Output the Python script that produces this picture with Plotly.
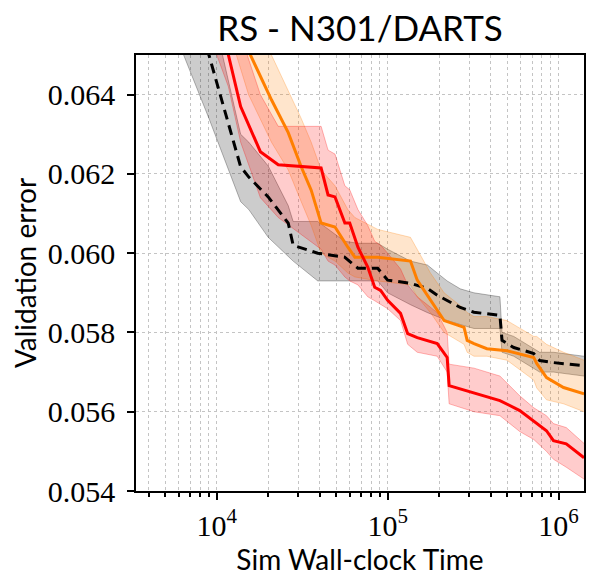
import plotly.graph_objects as go

# incumbent validation error over simulated wall-clock time (mean and band)
rs_time = [6.4e3, 9.0e3, 1.38e4, 1.54e4, 2.0e4, 2.62e4, 2.8e4, 3.9e4, 5.6e4, 6.7e4, 8.75e4,
           1.0e5, 1.36e5, 1.71e5, 1.95e5, 2.23e5, 2.66e5, 3.2e5, 4.54e5, 4.67e5, 5.47e5,
           7.16e5, 7.76e5, 9.34e5, 1.41e6]
rs_mean = [0.0671, 0.0650, 0.06218, 0.06192, 0.06142, 0.06076, 0.0602, 0.0600, 0.0599, 0.05962,
           0.05962, 0.05932, 0.05924, 0.05911, 0.05894, 0.05881, 0.05863, 0.05851, 0.05843,
           0.0578, 0.05762, 0.05747, 0.05729, 0.05724, 0.05716]
rs_hi = [0.0690, 0.0665, 0.0630, 0.0628, 0.0622, 0.0612, 0.0608, 0.0608, 0.0603, 0.06025,
         0.06025, 0.0601, 0.0598, 0.0597, 0.0595, 0.0593, 0.0591, 0.0590, 0.0589, 0.0580,
         0.0579, 0.0576, 0.0575, 0.0575, 0.0574]
rs_lo = [0.0650, 0.0634, 0.0613, 0.0611, 0.0604, 0.0599, 0.0598, 0.0593, 0.0593, 0.0593,
         0.0593, 0.0590, 0.0587, 0.0585, 0.0584, 0.0583, 0.0582, 0.0581, 0.0581, 0.0575,
         0.0574, 0.0571, 0.0570, 0.0570, 0.0569]

red_time = [1.0e4, 1.17e4, 1.38e4, 1.8e4, 2.29e4, 4.08e4, 4.48e4, 4.92e4, 5.62e4, 6.0e4,
            6.7e4, 7.65e4, 8.4e4, 9.1e4, 1.0e5, 1.19e5, 1.31e5, 1.49e5, 1.95e5, 2.23e5,
            2.29e5, 3.2e5, 4.54e5, 5.93e5, 7.16e5, 8.5e5, 9.34e5, 1.11e6, 1.41e6]
red_mean = [0.0668, 0.0650, 0.0637, 0.06256, 0.06223, 0.06215, 0.06147, 0.06142, 0.06076,
            0.06076, 0.06015, 0.05965, 0.05914, 0.05906, 0.05881, 0.05848, 0.05797, 0.05787,
            0.05772, 0.05737, 0.05666, 0.05648, 0.05628, 0.05603, 0.05577, 0.05552, 0.05527,
            0.05519, 0.05484]
red_hi = [0.0690, 0.0668, 0.0655, 0.0640, 0.0632, 0.0632, 0.0626, 0.0625, 0.0617, 0.0616,
          0.0611, 0.0607, 0.0603, 0.0602, 0.0600, 0.0596, 0.0592, 0.0589, 0.0585, 0.0580,
          0.0572, 0.0571, 0.0569, 0.0564, 0.0561, 0.0559, 0.0557, 0.0556, 0.0552]
red_lo = [0.0650, 0.0642, 0.0628, 0.0614, 0.0609, 0.0601, 0.0598, 0.0597, 0.0594, 0.0593,
          0.0592, 0.0589, 0.0588, 0.0587, 0.0586, 0.0583, 0.0577, 0.0575, 0.0574, 0.0570,
          0.0562, 0.0560, 0.0559, 0.0555, 0.0553, 0.0550, 0.0548, 0.0546, 0.0543]

orange_time = [1.2e4, 1.535e4, 2.09e4, 2.62e4, 3.12e4, 3.57e4, 4.08e4, 4.92e4, 5.85e4, 6.43e4,
               8.75e4, 1.36e5, 1.49e5, 1.78e5, 2.14e5, 2.8e5, 2.92e5, 3.2e5, 3.81e5, 4.99e5,
               7.16e5, 7.45e5, 8.51e5, 1.07e6, 1.41e6]
orange_mean = [0.0668, 0.0651, 0.06387, 0.06304, 0.06218, 0.06159, 0.06076, 0.06066, 0.06015,
               0.0599, 0.0599, 0.0598, 0.05932, 0.05881, 0.0583, 0.05813, 0.0578, 0.05772,
               0.05759, 0.05754, 0.05737, 0.05722, 0.05686, 0.05661, 0.05645]
orange_hi = [0.0685, 0.0662, 0.0650, 0.0641, 0.0634, 0.0628, 0.0621, 0.0617, 0.0611, 0.0609,
             0.0606, 0.0604, 0.0601, 0.0595, 0.0590, 0.0586, 0.0585, 0.0584, 0.0584, 0.0583,
             0.0579, 0.0579, 0.0577, 0.0575, 0.0573]
orange_lo = [0.0655, 0.0640, 0.0628, 0.0621, 0.0613, 0.0607, 0.0600, 0.0598, 0.0595, 0.0594,
             0.0593, 0.0592, 0.0589, 0.0585, 0.0580, 0.0577, 0.0575, 0.0574, 0.0574, 0.0573,
             0.0568, 0.0566, 0.0563, 0.0562, 0.0560]

y_ticks = [0.054, 0.056, 0.058, 0.060, 0.062, 0.064]
x_ticks = [1e4, 1e5, 1e6]
x_ticktext = ["10<sup>4</sup>", "10<sup>5</sup>", "10<sup>6</sup>"]

series = [
    (rs_time, rs_mean, rs_lo, rs_hi, "0,0,0", "dash"),
    (orange_time, orange_mean, orange_lo, orange_hi, "255,127,0", "solid"),
    (red_time, red_mean, red_lo, red_hi, "255,0,0", "solid"),
]

fig = go.Figure()

for t, m, lo, hi, rgb, dash in series:
    fig.add_trace(go.Scatter(x=t, y=hi, mode="lines",
                             line=dict(color=f"rgba({rgb},0.28)", width=1),
                             showlegend=False, hoverinfo="skip"))
    fig.add_trace(go.Scatter(x=t, y=lo, mode="lines", fill="tonexty",
                             fillcolor=f"rgba({rgb},0.2)",
                             line=dict(color=f"rgba({rgb},0.28)", width=1),
                             showlegend=False, hoverinfo="skip"))

for t, m, lo, hi, rgb, dash in series:
    fig.add_trace(go.Scatter(x=t, y=m, mode="lines",
                             line=dict(color=f"rgb({rgb})", width=3,
                                       dash="10px,6px" if dash == "dash" else dash),
                             showlegend=False))

serif = "Liberation Serif"
sans = "Lato"
grid = "#c4c4c4"

# page body adds an 8px offset, margins account for it
fig.update_layout(
    width=598, height=585,
    margin=dict(l=128, r=22, t=47, b=102),
    plot_bgcolor="white", paper_bgcolor="white",
    title=dict(text="RS - N301/DARTS", x=0.5, xanchor="center", xref="paper",
               yref="container", y=0.986, yanchor="top",
               font=dict(family=sans, size=35, color="black")),
)

fig.update_xaxes(
    type="log", range=[3.5275, 6.149], automargin=False,
    tickmode="array", tickvals=x_ticks, ticktext=x_ticktext,
    ticks="outside", ticklen=7, tickwidth=1.5, tickcolor="black",
    tickfont=dict(family=serif, size=30, color="black"),
    showline=True, linecolor="black", linewidth=1.5, mirror=True,
    showgrid=True, gridcolor=grid, griddash="dot", gridwidth=1,
    minor=dict(dtick="D1", ticks="outside", ticklen=4, tickcolor="black",
               showgrid=True, gridcolor=grid, griddash="dot", gridwidth=1),
    title=dict(text="Sim Wall-clock Time", font=dict(family=sans, size=28, color="black"),
               standoff=0),
    zeroline=False,
)

fig.update_yaxes(
    range=[0.054, 0.065], automargin=False,
    tickmode="array", tickvals=y_ticks, ticktext=[f"{v:.3f}" for v in y_ticks],
    ticks="outside", ticklen=7, tickwidth=1.5, tickcolor="black", ticklabelstandoff=6,
    tickfont=dict(family=serif, size=30, color="black"),
    showline=True, linecolor="black", linewidth=1.5, mirror=True,
    showgrid=True, gridcolor=grid, griddash="dot", gridwidth=1,
    title=dict(text="Validation error", font=dict(family=sans, size=28, color="black"),
               standoff=4),
    zeroline=False,
)

fig.write_html("out.html")
